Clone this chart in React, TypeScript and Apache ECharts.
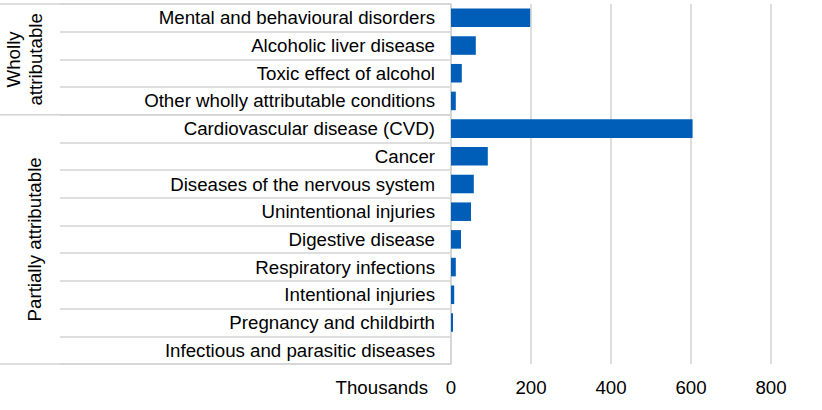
import { useEffect, useRef } from "react";
import * as echarts from "echarts";

// Alcohol-attributable burden by condition (thousands)
const categories = [
  "Mental and behavioural disorders",
  "Alcoholic liver disease",
  "Toxic effect of alcohol",
  "Other wholly attributable conditions",
  "Cardiovascular disease (CVD)",
  "Cancer",
  "Diseases of the nervous system",
  "Unintentional injuries",
  "Digestive disease",
  "Respiratory infections",
  "Intentional injuries",
  "Pregnancy and childbirth",
  "Infectious and parasitic diseases",
];
const values = [198, 62, 27, 12, 604, 92, 57, 50, 25, 12, 8, 5, 0];

// Category groups (first and last index of each group)
const groupNames = ["Wholly\nattributable", "Partially attributable"];
const groupFrom = [0, 4];
const groupTo = [3, 12];

const unitLabel = "Thousands";
const xMin = 0;
const xMax = 800;
const xInterval = 200;

const FONT = "'Liberation Sans', Arial, Helvetica, sans-serif";
const FONT_SIZE = 18.7;
const LINE = "#d3d3d3";
const BAR = "#005EB8";

export default function App() {
  const ref = useRef<HTMLDivElement>(null);

  useEffect(() => {
    if (!ref.current) return;
    const chart = echarts.init(ref.current, undefined, { renderer: "svg" });

    chart.setOption({
      animation: false,
      textStyle: { fontFamily: FONT },
      grid: { left: 451, right: 51, top: 4, bottom: 46, containLabel: false },
      xAxis: {
        type: "value",
        min: xMin,
        max: xMax,
        interval: xInterval,
        axisLine: { show: false },
        axisTick: { show: false },
        axisLabel: { margin: 14, fontSize: FONT_SIZE, color: "#000", fontFamily: FONT },
        splitLine: { show: true, lineStyle: { color: LINE, width: 1.5 } },
      },
      yAxis: {
        type: "category",
        inverse: true,
        data: categories,
        axisLine: { show: true, lineStyle: { color: LINE, width: 1.5 } },
        axisTick: { show: true, length: 391, interval: 0, lineStyle: { color: LINE, width: 1.5 } },
        axisLabel: { margin: 16, fontSize: FONT_SIZE, color: "#000", fontFamily: FONT },
      },
      series: [
        {
          type: "bar",
          data: values,
          barCategoryGap: "33%",
          itemStyle: { color: BAR },
        },
      ],
    });

    // Group separators, group titles and the unit label, placed via the axes
    const y0 = chart.convertToPixel({ yAxisIndex: 0 }, categories[0]) as number;
    const y1 = chart.convertToPixel({ yAxisIndex: 0 }, categories[1]) as number;
    const band = Math.abs(y1 - y0);
    const xZero = chart.convertToPixel({ xAxisIndex: 0 }, 0) as number;
    const bottomY = (chart.convertToPixel({ yAxisIndex: 0 }, categories[categories.length - 1]) as number) + band / 2;

    const elements: any[] = [];
    const boundaryYs = new Set<number>();
    groupNames.forEach((name, g) => {
      const top = (chart.convertToPixel({ yAxisIndex: 0 }, categories[groupFrom[g]]) as number) - band / 2;
      const bot = (chart.convertToPixel({ yAxisIndex: 0 }, categories[groupTo[g]]) as number) + band / 2;
      boundaryYs.add(Math.round(top * 10) / 10);
      boundaryYs.add(Math.round(bot * 10) / 10);
      elements.push({
        type: "text",
        x: g === 0 ? 24 : 34,
        y: (top + bot) / 2,
        rotation: Math.PI / 2,
        style: {
          text: name,
          fill: "#000",
          font: `${FONT_SIZE}px ${FONT}`,
          lineHeight: 22,
          align: "center",
          verticalAlign: "middle",
        },
      });
    });
    boundaryYs.forEach((y) => {
      elements.push({
        type: "line",
        shape: { x1: 0, y1: y, x2: xZero, y2: y },
        style: { stroke: LINE, lineWidth: 1.5 },
      });
    });
    elements.push({
      type: "text",
      x: xZero - 23,
      y: bottomY + 23.5,
      style: {
        text: unitLabel,
        fill: "#000",
        font: `${FONT_SIZE}px ${FONT}`,
        align: "right",
        verticalAlign: "middle",
      },
    });

    chart.setOption({ graphic: elements });

    return () => chart.dispose();
  }, []);

  return (
    <div
      ref={ref}
      style={{ position: "fixed", left: 0, top: 0, width: 822, height: 410, background: "#fff" }}
    />
  );
}
